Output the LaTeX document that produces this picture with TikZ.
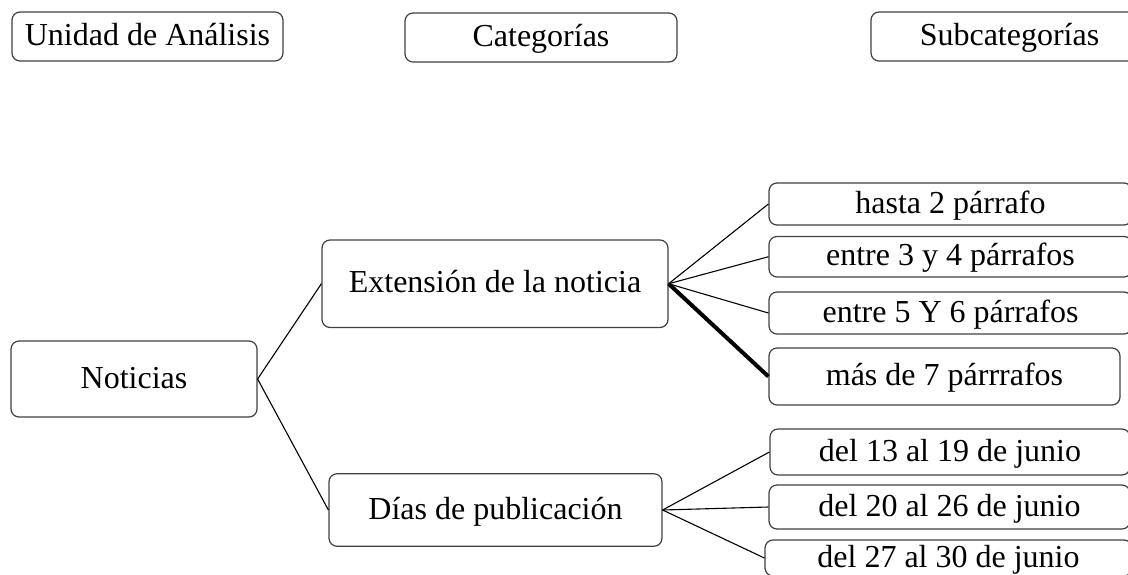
\documentclass[tikz,border=0pt]{standalone}
\usepackage{fontspec}
\setmainfont{Liberation Serif}
\begin{document}
\begin{tikzpicture}[x=1pt,y=-1pt,
  box/.style={draw=black!75, line width=1.2pt, rounded corners=8pt, inner sep=0pt,
    font=\fontsize{32}{36}\selectfont, text height=24pt, text depth=6pt, align=center},
  link/.style={draw=black, line width=1.1pt},
  boldlink/.style={draw=black, line width=4pt}]
\useasboundingbox (0,0) rectangle (1128,574);
\clip (0,0) rectangle (1128,574);
% headers
\node[box, minimum width=271pt, minimum height=49pt] (unidad) at (147.5,36.5) {Unidad de Análisis};
\node[box, minimum width=272pt, minimum height=49pt] (cat) at (541,37.5) {Categorías};
\node[box, minimum width=277pt, minimum height=49pt] (sub) at (1009.5,36.5) {Subcategorías};
% main tree
\node[box, minimum width=246pt, minimum height=76pt] (not) at (134,379) {Noticias};
\node[box, minimum width=346pt, minimum height=87.5pt] (ext) at (495,283.75) {Extensión de la noticia};
\node[box, minimum width=333pt, minimum height=72.5pt] (dias) at (495.5,510) {Días de publicación};
% subcategories
\node[box, minimum width=363pt, minimum height=42pt] (hasta) at (950.5,204) {hasta 2 párrafo};
\node[box, minimum width=363pt, minimum height=40.5pt] (e34) at (950.5,256.75) {entre 3 y 4 párrafos};
\node[box, minimum width=363pt, minimum height=42pt] (e56) at (950.5,313) {entre 5 Y 6 párrafos};
\node[box, minimum width=351pt, minimum height=57pt] (mas) at (944.5,376.5) {más de 7 párrrafos};
\node[box, minimum width=360pt, minimum height=46pt] (d13) at (950,452) {del 13 al 19 de junio};
\node[box, minimum width=361pt, minimum height=44pt] (d20) at (949.5,507) {del 20 al 26 de junio};
\node[box, minimum width=367pt, minimum height=36pt] (d27) at (948.5,558) {del 27 al 30 de junio};
% connectors
\draw[link] (not.east) -- (ext.west);
\draw[link] (not.east) -- (dias.west);
\draw[link] (ext.east) -- (hasta.west);
\draw[link] (ext.east) -- (e34.west);
\draw[link] (ext.east) -- (e56.west);
\draw[boldlink] (ext.east) -- (mas.west);
\draw[link] (dias.east) -- (d13.west);
\draw[link] (dias.east) -- (d20.west);
\draw[link] (dias.east) -- (d27.west);
\end{tikzpicture}
\end{document}
